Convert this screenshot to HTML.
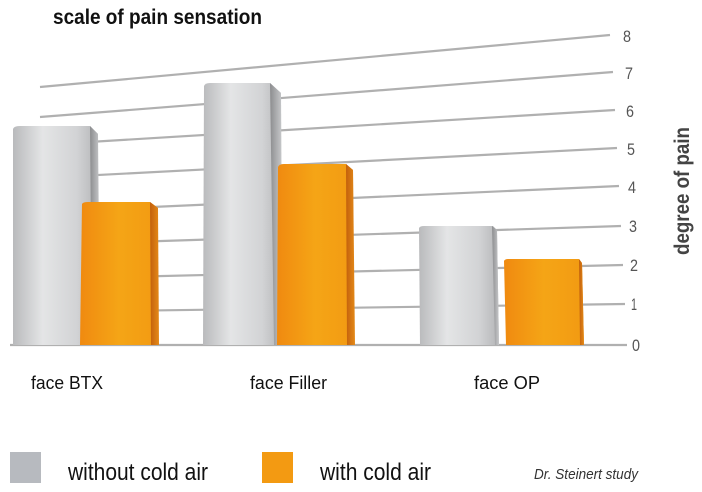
<!DOCTYPE html>
<html><head><meta charset="utf-8"><style>
html,body{margin:0;padding:0;background:#fff;}
svg{display:block;}
text{font-family:"Liberation Sans Narrow","Liberation Sans",sans-serif;}
</style></head><body>
<svg width="702" height="492" viewBox="0 0 702 492" xmlns="http://www.w3.org/2000/svg">
<defs>
<linearGradient id="g" x1="0" x2="1" y1="0" y2="0">
<stop offset="0" stop-color="#b9babc"/><stop offset="0.35" stop-color="#e4e5e6"/><stop offset="0.75" stop-color="#d2d3d5"/><stop offset="1" stop-color="#b4b5b7"/></linearGradient>
<linearGradient id="gs" x1="0" x2="1"><stop offset="0" stop-color="#8c8d8f"/><stop offset="1" stop-color="#c8c9cb"/></linearGradient>
<linearGradient id="o" x1="0" x2="1" y1="0" y2="0">
<stop offset="0" stop-color="#f08a10"/><stop offset="0.5" stop-color="#f5a516"/><stop offset="1" stop-color="#f29a12"/></linearGradient>
<linearGradient id="os" x1="0" x2="1"><stop offset="0" stop-color="#c2600c"/><stop offset="1" stop-color="#e58a18"/></linearGradient>
</defs>
<g stroke="#b0b0b0" stroke-width="2.2" fill="none">
<line x1="40" y1="87" x2="610" y2="35"/>
<line x1="40" y1="117" x2="613" y2="72"/>
<line x1="40" y1="145" x2="615" y2="110"/>
<line x1="40" y1="178" x2="617" y2="148"/>
<line x1="40" y1="212" x2="619" y2="186"/>
<line x1="40" y1="245" x2="621" y2="226"/>
<line x1="40" y1="279" x2="623" y2="265"/>
<line x1="40" y1="312" x2="625" y2="304"/>
<line x1="10" y1="345" x2="627" y2="345"/>
</g>
<path d="M13 129 Q14 126 20 126 L90 126 L98 134 L98 345 L13 345Z" fill="url(#g)"/>
<path d="M90 126 L98 134 L100 345 L92 345Z" fill="url(#gs)"/>
<path d="M82 204 Q83 202 88 202 L150 202 L158 208 L158 345 L80 345Z" fill="url(#o)"/>
<path d="M150 202 L158 208 L159 345 L151 345Z" fill="url(#os)"/>
<path d="M204 86 Q205 83 210 83 L270 83 L281 93 L282 345 L203 345Z" fill="url(#g)"/>
<path d="M270 83 L281 93 L282 345 L274 345Z" fill="url(#gs)"/>
<path d="M278 167 Q279 164 284 164 L346 164 L353 170 L354 345 L277 345Z" fill="url(#o)"/>
<path d="M346 164 L353 170 L355 345 L347 345Z" fill="url(#os)"/>
<path d="M419 228 Q420 226 424 226 L493 226 L497 230 L499 345 L420 345Z" fill="url(#g)"/>
<path d="M492 226 L497 230 L499 345 L495 345Z" fill="url(#gs)"/>
<path d="M504 261 Q505 259 508 259 L579 259 L582 263 L584 345 L506 345Z" fill="url(#o)"/>
<path d="M579 259 L582 263 L584 345 L580 345Z" fill="url(#os)"/>
<g font-size="17" fill="#555">
<text x="623" y="42" textLength="8" lengthAdjust="spacingAndGlyphs">8</text><text x="625" y="79" textLength="8" lengthAdjust="spacingAndGlyphs">7</text><text x="626" y="117" textLength="8" lengthAdjust="spacingAndGlyphs">6</text><text x="627" y="155" textLength="8" lengthAdjust="spacingAndGlyphs">5</text><text x="628" y="193" textLength="8" lengthAdjust="spacingAndGlyphs">4</text><text x="629" y="232" textLength="8" lengthAdjust="spacingAndGlyphs">3</text><text x="630" y="271" textLength="8" lengthAdjust="spacingAndGlyphs">2</text><text x="631" y="310" textLength="6" lengthAdjust="spacingAndGlyphs">1</text><text x="632" y="351" textLength="8" lengthAdjust="spacingAndGlyphs">0</text>
</g>
<text x="53" y="24" font-size="21" font-weight="bold" fill="#111" textLength="209" lengthAdjust="spacingAndGlyphs">scale of pain sensation</text>
<text transform="translate(689,191) rotate(-90)" text-anchor="middle" font-size="21" font-weight="bold" fill="#444" textLength="128" lengthAdjust="spacingAndGlyphs">degree of pain</text>
<g font-size="18" fill="#111">
<text x="31" y="389" textLength="72" lengthAdjust="spacingAndGlyphs">face BTX</text><text x="250" y="389" textLength="77" lengthAdjust="spacingAndGlyphs">face Filler</text><text x="474" y="389" textLength="66" lengthAdjust="spacingAndGlyphs">face OP</text>
</g>
<rect x="10" y="452" width="31" height="31" fill="#b7babf"/>
<rect x="262" y="452" width="31" height="31" fill="#f39a12"/>
<g font-size="24" fill="#111">
<text x="68" y="480" textLength="140" lengthAdjust="spacingAndGlyphs">without cold air</text><text x="320" y="480" textLength="111" lengthAdjust="spacingAndGlyphs">with cold air</text>
</g>
<text x="534" y="479" font-size="15" font-style="italic" fill="#333" textLength="104" lengthAdjust="spacingAndGlyphs">Dr. Steinert study</text>
</svg>
</body></html>
